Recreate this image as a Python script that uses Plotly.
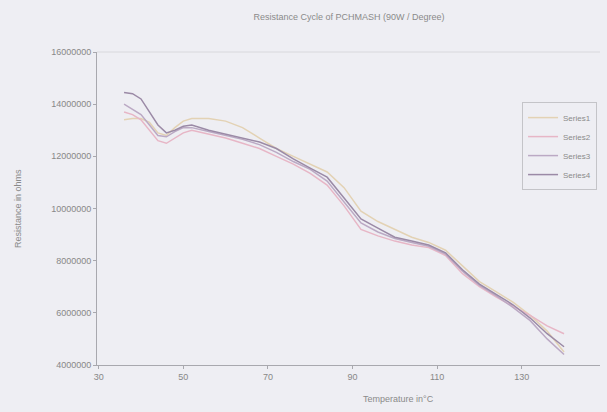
import plotly.graph_objects as go

temps = [36, 38, 40, 42, 44, 46, 48, 50, 52, 56, 60, 64, 68, 72, 76, 80, 84, 88, 92, 96,
         100, 104, 108, 112, 116, 120, 124, 128, 132, 136, 140]

series1 = [13.4, 13.45, 13.45, 13.3, 12.9, 12.8, 13.1, 13.35, 13.45, 13.45, 13.35, 13.1, 12.7,
           12.3, 12.0, 11.7, 11.4, 10.8, 9.9, 9.5, 9.2, 8.9, 8.7, 8.4, 7.8, 7.2, 6.8, 6.4, 5.9, 5.3, 4.5]
series2 = [13.7, 13.6, 13.4, 13.0, 12.6, 12.5, 12.7, 12.9, 13.0, 12.85, 12.7, 12.5, 12.3,
           12.0, 11.7, 11.35, 10.9, 10.1, 9.2, 8.95, 8.75, 8.6, 8.5, 8.2, 7.5, 7.0, 6.6, 6.25, 5.9, 5.5, 5.2]
series3 = [14.0, 13.8, 13.6, 13.2, 12.8, 12.75, 12.95, 13.1, 13.1, 12.95, 12.8, 12.65, 12.45,
           12.15, 11.8, 11.5, 11.05, 10.25, 9.45, 9.1, 8.85, 8.7, 8.55, 8.25, 7.6, 7.05, 6.65, 6.2, 5.7, 5.0, 4.4]
series4 = [14.45, 14.4, 14.2, 13.7, 13.2, 12.9, 13.0, 13.15, 13.2, 13.0, 12.85, 12.7, 12.55,
           12.3, 11.9, 11.55, 11.2, 10.4, 9.6, 9.25, 8.9, 8.75, 8.6, 8.3, 7.65, 7.1, 6.7, 6.3, 5.8, 5.2, 4.7]

names = ["Series1", "Series2", "Series3", "Series4"]
colors = ["#e3d2b4", "#e7b6c6", "#bba9c4", "#9b8aa6"]
y_ticks = [4000000, 6000000, 8000000, 10000000, 12000000, 14000000, 16000000]
x_ticks = [30, 50, 70, 90, 110, 130]

fig = go.Figure()
for name, vals, c in zip(names, [series1, series2, series3, series4], colors):
    fig.add_trace(go.Scatter(x=temps, y=[v * 1e6 for v in vals], mode="lines", name=name,
                             line=dict(color=c, width=1.5)))

bg = "#eeeef3"
fig.update_layout(
    width=607, height=412,
    margin=dict(l=97, r=7, t=52, b=47),
    paper_bgcolor=bg, plot_bgcolor=bg,
    font=dict(family="Liberation Sans, Arial, sans-serif", size=9, color="#888888"),
    title=dict(text="Resistance Cycle of PCHMASH (90W / Degree)", x=0.575, xanchor="center",
               y=0.958, yanchor="middle", font=dict(size=9, color="#8a8a8a")),
    showlegend=True,
    legend=dict(x=0.845, y=0.84, xanchor="left", yanchor="top", bgcolor=bg,
                bordercolor="#c4c4c8", borderwidth=1, font=dict(size=8, color="#8a8a8a"),
                tracegroupgap=0, itemwidth=30),
)
fig.update_xaxes(range=[29.6, 148.5], tickvals=x_ticks, showgrid=False, zeroline=False,
                 showline=True, linecolor="#a8a8ae", linewidth=1, ticks="outside",
                 tickcolor="#a8a8ae", ticklen=3)
fig.update_yaxes(range=[4000000, 16000000], tickvals=y_ticks, tickformat="d", showgrid=False,
                 zeroline=False, showline=True, linecolor="#a8a8ae", linewidth=1,
                 ticks="outside", tickcolor="#a8a8ae", ticklen=3)
fig.add_shape(type="line", xref="paper", yref="paper", x0=0, x1=1, y0=1, y1=1,
              line=dict(color="#d8d8dc", width=1))
fig.add_annotation(text="Resistance in ohms", xref="paper", yref="paper", x=-0.158, y=0.5,
                   xanchor="center", textangle=-90, showarrow=False,
                   font=dict(size=9, color="#8a8a8a"))
fig.add_annotation(text="Temperature in°C", xref="paper", yref="paper", x=0.6, y=-0.108,
                   showarrow=False, yanchor="middle", font=dict(size=9, color="#8a8a8a"))

fig.write_html("out.html")
